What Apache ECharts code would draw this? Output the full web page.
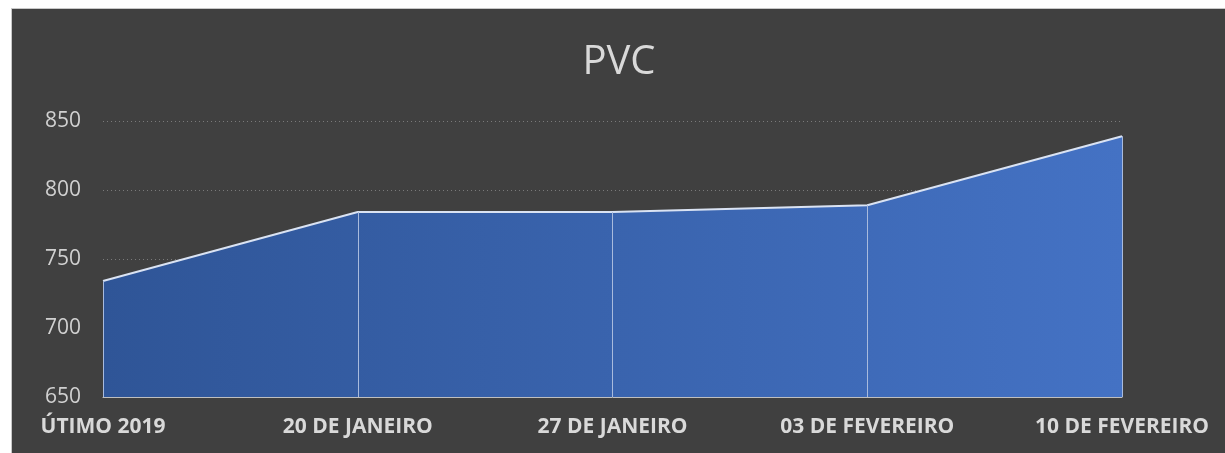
<!DOCTYPE html>
<html>
<head>
<meta charset="utf-8">
<script src="https://cdn.jsdelivr.net/npm/echarts@6/dist/echarts.min.js"></script>
<style>
html,body{margin:0;padding:0;background:#fff;overflow:hidden;width:1225px;height:453px;}
#wrap{position:absolute;left:11px;top:8px;width:1214px;height:445px;border-top:1px solid #c8c8c8;border-left:1px solid #c8c8c8;background:#404040;}
#chart{width:1214px;height:445px;}
</style>
</head>
<body>
<div id="wrap"><div id="chart"></div></div>
<script>
var categories = ['ÚTIMO 2019', '20 DE JANEIRO', '27 DE JANEIRO', '03 DE FEVEREIRO', '10 DE FEVEREIRO'];
var pvcValues = [734, 784, 784, 789, 839];
var yMin = 650, yMax = 850, yStep = 50;

var myChart = echarts.init(document.getElementById('chart'));

// linhas verticais do chão até cada ponto
var dropLines = [];
for(var i=0; i<categories.length; i++){
    dropLines.push([{coord:[categories[i], yMin]}, {coord:[categories[i], pvcValues[i]]}]);
}

var option = {
    backgroundColor: '#404040',
    animation: false,
    title: {
        text: 'PVC',
        left: 'center',
        top: 29,
        textStyle: {color: '#d9d9d9', fontFamily: 'Open Sans', fontWeight: 'normal', fontSize: 40}
    },
    grid: {left: 91, right: 104, top: 112, bottom: 57, containLabel: false},
    xAxis: {
        type: 'category',
        boundaryGap: false,
        data: categories,
        axisLine: {show: true, lineStyle: {color: '#bfbfbf', width: 1}},
        axisTick: {show: false},
        axisLabel: {show: true, margin: 20, color: '#d9d9d9', fontFamily: 'Open Sans', fontWeight: 'bold', fontSize: 21, interval: 0},
        splitLine: {show: false}
    },
    yAxis: {
        type: 'value',
        min: yMin,
        max: yMax,
        interval: yStep,
        axisLine: {show: false},
        axisTick: {show: false},
        axisLabel: {show: true, margin: 22, color: '#d0d0d0', fontFamily: 'Open Sans', fontSize: 21},
        splitLine: {show: true, lineStyle: {color: '#7a7a7a', type: [1, 3], width: 1}}
    },
    series: [{
        name: 'PVC',
        type: 'line',
        data: pvcValues,
        symbol: 'none',
        z: 3,
        lineStyle: {color: '#dae3f3', width: 2},
        areaStyle: {
            opacity: 1,
            color: new echarts.graphic.LinearGradient(0, 0, 1, 0, [
                {offset: 0, color: '#2f5597'},
                {offset: 1, color: '#4472c4'}
            ])
        },
        markLine: {
            silent: true,
            symbol: ['none', 'none'],
            label: {show: false},
            lineStyle: {color: '#a9bbdd', type: 'solid', width: 1},
            data: dropLines
        }
    }]
};
myChart.setOption(option, true);
</script>
</body>
</html>
